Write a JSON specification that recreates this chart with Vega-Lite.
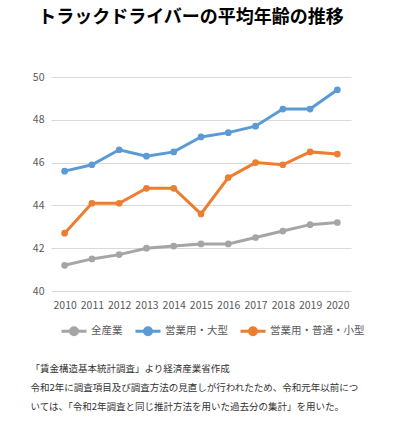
{
  "$schema": "https://vega.github.io/schema/vega-lite/v6.json",
  "autosize": "none",
  "width": 300,
  "height": 214,
  "padding": {"left": 51, "top": 77, "right": 45, "bottom": 135},
  "background": "white",
  "config": {
    "font": "Noto Sans CJK JP",
    "view": {"stroke": null}
  },
  "title": {
    "text": "トラックドライバーの平均年齢の推移",
    "fontSize": 18,
    "fontWeight": "bold",
    "color": "#000000",
    "anchor": "middle",
    "dx": -10,
    "offset": 45
  },
  "data": {
    "values": [
      {"year": "2010", "series": "全産業", "age": 41.2},
      {"year": "2011", "series": "全産業", "age": 41.5},
      {"year": "2012", "series": "全産業", "age": 41.7},
      {"year": "2013", "series": "全産業", "age": 42.0},
      {"year": "2014", "series": "全産業", "age": 42.1},
      {"year": "2015", "series": "全産業", "age": 42.2},
      {"year": "2016", "series": "全産業", "age": 42.2},
      {"year": "2017", "series": "全産業", "age": 42.5},
      {"year": "2018", "series": "全産業", "age": 42.8},
      {"year": "2019", "series": "全産業", "age": 43.1},
      {"year": "2020", "series": "全産業", "age": 43.2},
      {"year": "2010", "series": "営業用・大型", "age": 45.6},
      {"year": "2011", "series": "営業用・大型", "age": 45.9},
      {"year": "2012", "series": "営業用・大型", "age": 46.6},
      {"year": "2013", "series": "営業用・大型", "age": 46.3},
      {"year": "2014", "series": "営業用・大型", "age": 46.5},
      {"year": "2015", "series": "営業用・大型", "age": 47.2},
      {"year": "2016", "series": "営業用・大型", "age": 47.4},
      {"year": "2017", "series": "営業用・大型", "age": 47.7},
      {"year": "2018", "series": "営業用・大型", "age": 48.5},
      {"year": "2019", "series": "営業用・大型", "age": 48.5},
      {"year": "2020", "series": "営業用・大型", "age": 49.4},
      {"year": "2010", "series": "営業用・普通・小型", "age": 42.7},
      {"year": "2011", "series": "営業用・普通・小型", "age": 44.1},
      {"year": "2012", "series": "営業用・普通・小型", "age": 44.1},
      {"year": "2013", "series": "営業用・普通・小型", "age": 44.8},
      {"year": "2014", "series": "営業用・普通・小型", "age": 44.8},
      {"year": "2015", "series": "営業用・普通・小型", "age": 43.6},
      {"year": "2016", "series": "営業用・普通・小型", "age": 45.3},
      {"year": "2017", "series": "営業用・普通・小型", "age": 46.0},
      {"year": "2018", "series": "営業用・普通・小型", "age": 45.9},
      {"year": "2019", "series": "営業用・普通・小型", "age": 46.5},
      {"year": "2020", "series": "営業用・普通・小型", "age": 46.4}
    ]
  },
  "encoding": {
    "x": {
      "field": "year",
      "type": "ordinal",
      "scale": {"type": "point", "padding": 0.5},
      "axis": {
        "labelAngle": 0,
        "labelFontSize": 10.5,
        "labelColor": "#595959",
        "labelPadding": 9,
        "domain": false,
        "ticks": false,
        "grid": false,
        "title": [
          "「賃金構造基本統計調査」より経済産業省作成",
          "令和2年に調査項目及び調査方法の見直しが行われたため、令和元年以前につ",
          "いては、「令和2年調査と同じ推計方法を用いた過去分の集計」を用いた。"
        ],
        "titleAnchor": "start",
        "titleAlign": "left",
        "titleBaseline": "top",
        "titleX": -21,
        "titleY": 72,
        "titleLineHeight": 19,
        "titleFontSize": 9.5,
        "titleFontWeight": "normal",
        "titleColor": "#333333"
      }
    },
    "y": {
      "field": "age",
      "type": "quantitative",
      "scale": {"domain": [40, 50], "nice": false, "zero": false},
      "axis": {
        "values": [40, 42, 44, 46, 48, 50],
        "labelFontSize": 10.5,
        "labelColor": "#595959",
        "labelPadding": 7,
        "domain": false,
        "ticks": false,
        "gridColor": "#D9D9D9",
        "gridWidth": 1,
        "title": null
      }
    },
    "color": {
      "field": "series",
      "type": "nominal",
      "sort": ["全産業", "営業用・大型", "営業用・普通・小型"],
      "scale": {
        "domain": ["全産業", "営業用・大型", "営業用・普通・小型"],
        "range": ["#A5A5A5", "#5B9BD5", "#ED7D31"]
      },
      "legend": {
        "title": null,
        "orient": "none",
        "legendX": 9,
        "legendY": 240,
        "direction": "horizontal",
        "columns": 3,
        "columnPadding": 6,
        "symbolType": "M-1,0H1M-0.28,0A0.28,0.28 0 1,1 0.28,0A0.28,0.28 0 1,1 -0.28,0Z",
        "symbolSize": 625,
        "symbolStrokeWidth": 3,
        "labelFontSize": 10.5,
        "labelColor": "#595959",
        "labelOffset": 3
      }
    }
  },
  "layer": [
    {"mark": {"type": "line", "strokeWidth": 3}},
    {"mark": {"type": "point", "filled": true, "size": 45, "opacity": 1}}
  ]
}
